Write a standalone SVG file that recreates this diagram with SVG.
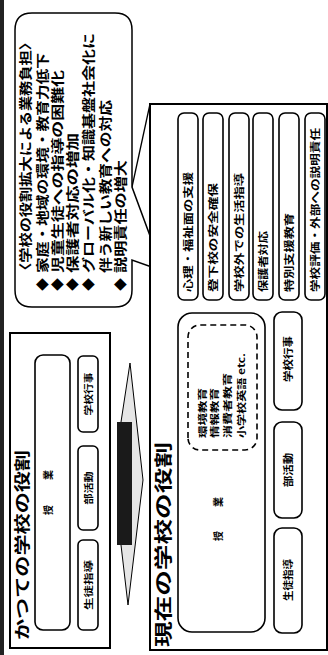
<svg xmlns="http://www.w3.org/2000/svg" width="328" height="655" viewBox="0 0 328 655">
<style>
.panel{fill:#fff;stroke:#000;stroke-width:2}
.box{fill:#fff;stroke:#000;stroke-width:1.6}
.dash{fill:none;stroke:#000;stroke-width:1.6;stroke-dasharray:6 4}
.t{font-family:"Noto Sans CJK JP","Noto Sans CJK SC",sans-serif;font-weight:bold;fill:#000}
.s9{font-size:9px}.s10{font-size:10px}.s13{font-size:13px}
</style>
<rect width="328" height="655" fill="#fff"/>
<g transform="translate(0,655) rotate(-90)">
  <rect x="0" y="0" width="655" height="4" fill="#222"/>

  <g id="old-panel">
    <rect class="panel" x="7" y="10" width="315" height="100"/>
    <text class="t" x="15" y="28" font-size="16" textLength="190" lengthAdjust="spacingAndGlyphs">かつての学校の役割</text>
  </g>
  <g id="old-jugyo">
    <rect class="box" x="25" y="35" width="275" height="35" rx="8"/>
    <text class="t s10" x="140" y="52">授</text>
    <text class="t s10" x="175" y="52">業</text>
  </g>
  <g id="old-seito">
    <rect class="box" x="25" y="78" width="90" height="20" rx="5"/>
    <text class="t s9" x="45" y="91.5" textLength="50" lengthAdjust="spacingAndGlyphs">生徒指導</text>
  </g>
  <g id="old-bukatsu">
    <rect class="box" x="125" y="78" width="84" height="20" rx="5"/>
    <text class="t s9" x="150.5" y="91.5" textLength="33" lengthAdjust="spacingAndGlyphs">部活動</text>
  </g>
  <g id="old-gyoji">
    <rect class="box" x="223" y="78" width="76" height="20" rx="5"/>
    <text class="t s9" x="239.5" y="91.5" textLength="43" lengthAdjust="spacingAndGlyphs">学校行事</text>
  </g>

  <g id="connectors">
    <polygon points="50,128 110,121 233,121 292,130 175,143" fill="#e6e6e6" stroke="#000" stroke-width="1"/>
    <rect x="110" y="117" width="123" height="15" fill="#1a1a1a"/>
    <line x1="468" y1="132" x2="551" y2="150" stroke="#000" stroke-width="1.3"/>
  </g>

  <g id="bubble">
    <path d="M365,15 H625 Q642,15 642,32 V115 Q642,132 625,132 H468 L384,163 L395,132 H365 Q348,132 348,115 V32 Q348,15 365,15 Z" fill="#fff" stroke="#000" stroke-width="1.5"/>
    <text class="t s13" x="377" y="29.5" textLength="243" lengthAdjust="spacingAndGlyphs">〈学校の役割拡大による業務負担〉</text>
    <text class="t s13" x="364" y="46.5">◆</text>
    <text class="t s13" x="382" y="46.5" textLength="220" lengthAdjust="spacingAndGlyphs">家庭・地域の環境・教育力低下</text>
    <text class="t s13" x="364" y="61.5">◆</text>
    <text class="t s13" x="382" y="61.5" textLength="203" lengthAdjust="spacingAndGlyphs">児童生徒への指導の困難化</text>
    <text class="t s13" x="364" y="76.5">◆</text>
    <text class="t s13" x="382" y="76.5" textLength="140" lengthAdjust="spacingAndGlyphs">保護者対応の増加</text>
    <text class="t s13" x="364" y="92.5">◆</text>
    <text class="t s13" x="382" y="92.5" textLength="240" lengthAdjust="spacingAndGlyphs">グローバル化・知識基盤社会化に</text>
    <text class="t s13" x="382" y="109.5" textLength="173" lengthAdjust="spacingAndGlyphs">伴う新しい教育への対応</text>
    <text class="t s13" x="364" y="124.5">◆</text>
    <text class="t s13" x="382" y="124.5" textLength="113" lengthAdjust="spacingAndGlyphs">説明責任の増大</text>
  </g>

  <g id="new-panel">
    <rect class="panel" x="5" y="150" width="546" height="177"/>
    <text class="t" x="8" y="170" font-size="18" textLength="205" lengthAdjust="spacingAndGlyphs">現在の学校の役割</text>
  </g>
  <g id="new-jugyo">
    <rect class="box" x="23" y="178" width="319" height="87" rx="14"/>
    <text class="t s10" x="114" y="222">授</text>
    <text class="t s10" x="148" y="222">業</text>
    <rect class="dash" x="205" y="188" width="125" height="69" rx="12"/>
    <text class="t s9" x="217" y="206" textLength="50" lengthAdjust="spacingAndGlyphs">環境教育</text>
    <text class="t s9" x="217" y="218" textLength="50" lengthAdjust="spacingAndGlyphs">情報教育</text>
    <text class="t s9" x="217" y="231" textLength="65" lengthAdjust="spacingAndGlyphs">消費者教育</text>
    <text class="t s9" x="217" y="245" textLength="85" lengthAdjust="spacingAndGlyphs">小学校英語 etc.</text>
  </g>
  <g id="new-seito">
    <rect class="box" x="22" y="274" width="105" height="28" rx="8"/>
    <text class="t s10" x="54" y="291.5" textLength="42" lengthAdjust="spacingAndGlyphs">生徒指導</text>
  </g>
  <g id="new-bukatsu">
    <rect class="box" x="137" y="274" width="96" height="28" rx="8"/>
    <text class="t s10" x="168" y="291.5" textLength="34" lengthAdjust="spacingAndGlyphs">部活動</text>
  </g>
  <g id="new-gyoji">
    <rect class="box" x="245" y="274" width="98" height="28" rx="8"/>
    <text class="t s10" x="273" y="291.5" textLength="46" lengthAdjust="spacingAndGlyphs">学校行事</text>
  </g>

  <g id="role-1">
    <rect class="box" x="355" y="178" width="187" height="20" rx="6"/>
    <text class="t s10" x="363" y="191.5" textLength="120" lengthAdjust="spacingAndGlyphs">心理・福祉面の支援</text>
  </g>
  <g id="role-2">
    <rect class="box" x="355" y="203" width="187" height="20" rx="6"/>
    <text class="t s10" x="363" y="216.5" textLength="109" lengthAdjust="spacingAndGlyphs">登下校の安全確保</text>
  </g>
  <g id="role-3">
    <rect class="box" x="355" y="229" width="187" height="20" rx="6"/>
    <text class="t s10" x="363" y="242.5" textLength="119" lengthAdjust="spacingAndGlyphs">学校外での生活指導</text>
  </g>
  <g id="role-4">
    <rect class="box" x="355" y="253" width="187" height="20" rx="6"/>
    <text class="t s10" x="363" y="266.5" textLength="61" lengthAdjust="spacingAndGlyphs">保護者対応</text>
  </g>
  <g id="role-5">
    <rect class="box" x="355" y="279" width="187" height="20" rx="6"/>
    <text class="t s10" x="363" y="292.5" textLength="79" lengthAdjust="spacingAndGlyphs">特別支援教育</text>
  </g>
  <g id="role-6">
    <rect class="box" x="355" y="305" width="187" height="20" rx="6"/>
    <text class="t s10" x="363" y="318.5" textLength="164" lengthAdjust="spacingAndGlyphs">学校評価・外部への説明責任</text>
  </g>
</g>
</svg>
